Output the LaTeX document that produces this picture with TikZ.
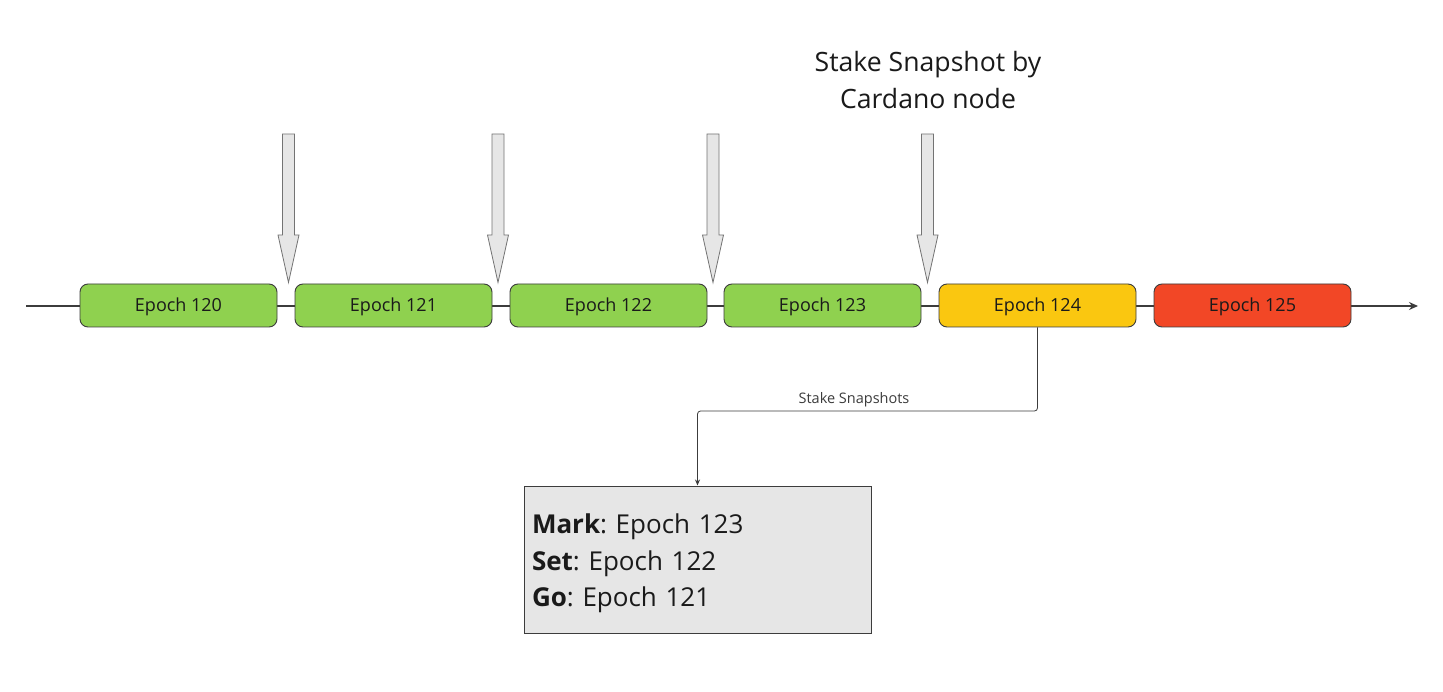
\documentclass[tikz,border=0pt]{standalone}
\usepackage{fontspec}
\setmainfont{Open Sans}
\usetikzlibrary{arrows.meta}
\definecolor{egreen}{HTML}{8FD14F}
\definecolor{eyellow}{HTML}{FAC710}
\definecolor{ered}{HTML}{F24726}
\definecolor{txt}{HTML}{1A1A1A}
\definecolor{edge}{HTML}{3C3C3C}
\definecolor{lgrey}{HTML}{E6E6E6}
\frenchspacing
\begin{document}
\begin{tikzpicture}[x=1pt,y=-1pt,
  epochbox/.style={draw=edge,line width=0.9pt,rounded corners=8pt,minimum width=197pt,minimum height=43pt,inner sep=0pt,text height=12.9pt,text depth=0pt,text=txt,font=\fontsize{18}{21}\selectfont},
  blockarrow/.style={draw=black!55,fill=lgrey,line width=0.8pt},
  timeline/.style={draw=edge,line width=1.4pt},
  conn/.style={draw=edge,line width=0.8pt,rounded corners=3pt,-{Stealth[length=6pt,width=5pt]}},
  infobox/.style={draw=edge,fill=lgrey,line width=1pt,minimum width=347pt,minimum height=147pt,text width=331pt,inner sep=8pt,align=left,text=txt,font=\fontsize{26}{36.5}\selectfont}
]
\useasboundingbox (0,0) rectangle (1443,692);
\fill[white] (0,0) rectangle (1443,692);
% timeline
\coordinate (tl0) at (26,306);
\coordinate (tl1) at (1418,306);
\draw[timeline,-{Stealth[length=9pt,width=8pt]}] (tl0) -- (tl1);
% epochs
\node[epochbox,fill=egreen] (e120) at (178.5,305.5) {Epoch 120};
\node[epochbox,fill=egreen] (e121) at (393.5,305.5) {Epoch 121};
\node[epochbox,fill=egreen] (e122) at (608.5,305.5) {Epoch 122};
\node[epochbox,fill=egreen] (e123) at (822.5,305.5) {Epoch 123};
\node[epochbox,fill=eyellow] (e124) at (1037.5,305.5) {Epoch 124};
\node[epochbox,fill=ered] (e125) at (1252.5,305.5) {Epoch 125};
% block arrows
\foreach \x in {288.5,498,713,927.5}{
  \draw[blockarrow] (\x-6,134) -- (\x+6,134) -- (\x+6,235) -- (\x+10.5,235) -- (\x,282.5) -- (\x-10.5,235) -- (\x-6,235) -- cycle;
}
% title
\node[align=center,text=txt,font=\fontsize{26.6}{37}\selectfont] (title) at (928,80) {Stake Snapshot by\\Cardano node};
% info box
\node[infobox] (info) at (697.5,559.5) {\rule{0pt}{28pt}\textbf{Mark}: Epoch 123\\\textbf{Set}: Epoch 122\\\textbf{Go}: Epoch 121};
% connector
\draw[conn] (e124.south) -- (1037.5,411) -- (697.5,411) -- (info.north);
\node[text=txt!85,font=\fontsize{14.5}{17}\selectfont,anchor=south,inner sep=2pt] (lbl) at (854,409) {Stake Snapshots};
\end{tikzpicture}
\end{document}
